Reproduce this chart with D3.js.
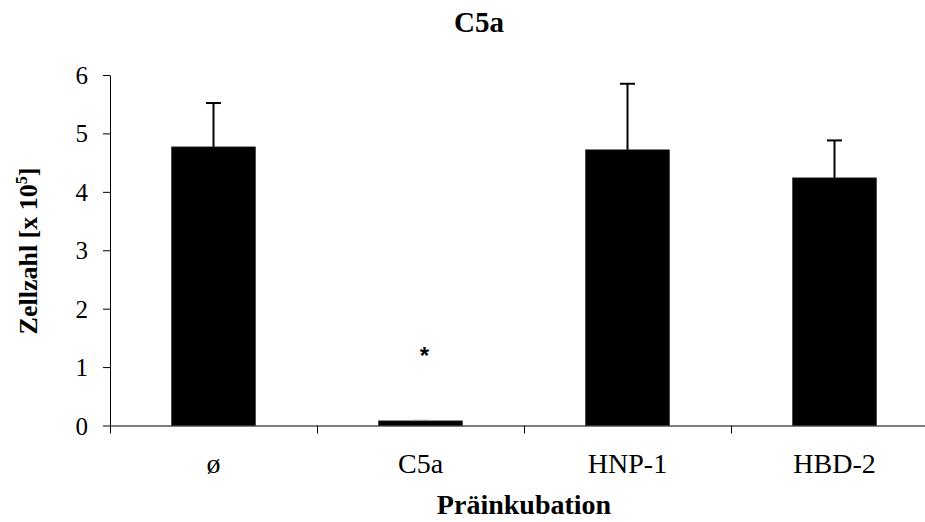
<!DOCTYPE html>
<html>
<head>
<meta charset="utf-8">
<script src="https://cdn.jsdelivr.net/npm/d3@7"></script>
<style>
    body { margin: 0; background: #fff; }
    svg { display: block; }
    text { font-family: "Liberation Serif", "Times New Roman", serif; fill: #000; }
</style>
</head>
<body>
<svg id="chart" width="925" height="522"></svg>
<script>
// Werte
var categories = ["ø", "C5a", "HNP-1", "HBD-2"];
var means = [4.77, 0.08, 4.72, 4.24];
var errors = [0.75, 0.01, 1.13, 0.64];
var marks = ["", "*", "", ""];
var yTicks = [0, 1, 2, 3, 4, 5, 6];

var data = categories.map(function (c, i) {
    return {cat: c, mean: means[i], err: errors[i], mark: marks[i]};
});

var svg = d3.select("#chart"),
    plotLeft = 110, plotRight = 938, plotTop = 75, plotBottom = 425.5;

var x = d3.scaleBand()
    .domain(categories)
    .range([plotLeft, plotRight])
    .paddingInner(0.593)
    .paddingOuter(0.2965);

// boundaries between categories for the x ticks
var xb = d3.scaleLinear()
    .domain([0, categories.length])
    .range([plotLeft, plotRight]);

var y = d3.scaleLinear()
    .domain([0, 6])
    .range([plotBottom, plotTop]);

// bars
svg.append("g")
    .selectAll("rect")
    .data(data)
    .enter()
    .append("rect")
    .attr("x", function (d) { return x(d.cat); })
    .attr("y", function (d) { return y(d.mean); })
    .attr("width", x.bandwidth())
    .attr("height", function (d) { return y(0) - y(d.mean); })
    .attr("fill", "#000")
    .attr("stroke", "#444")
    .attr("stroke-width", 0.6);

// error bars (upper only)
var eb = svg.append("g")
    .selectAll("g")
    .data(data)
    .enter()
    .append("g")
    .attr("stroke", function (d) { return d.err < 0.05 ? "#999" : "#000"; })
    .attr("stroke-width", function (d) { return d.err < 0.05 ? 1 : 2; });

eb.append("line")
    .attr("x1", function (d) { return x(d.cat) + x.bandwidth() / 2; })
    .attr("x2", function (d) { return x(d.cat) + x.bandwidth() / 2; })
    .attr("y1", function (d) { return y(d.mean); })
    .attr("y2", function (d) { return y(d.mean + d.err); });

eb.append("line")
    .attr("x1", function (d) { return x(d.cat) + x.bandwidth() / 2 - 7.5; })
    .attr("x2", function (d) { return x(d.cat) + x.bandwidth() / 2 + 7.5; })
    .attr("y1", function (d) { return y(d.mean + d.err); })
    .attr("y2", function (d) { return y(d.mean + d.err); });

// significance marks
svg.append("g")
    .selectAll("text")
    .data(data)
    .enter()
    .append("text")
    .attr("x", function (d) { return x(d.cat) + x.bandwidth() / 2 + 4; })
    .attr("y", 364)
    .attr("text-anchor", "middle")
    .style("font-family", "'Liberation Sans', Arial, sans-serif")
    .style("font-weight", "bold")
    .style("font-size", "24px")
    .text(function (d) { return d.mark; });

// y axis
var yAxis = svg.append("g")
    .attr("transform", "translate(" + plotLeft + ",0)")
    .call(d3.axisLeft(y)
        .tickValues(yTicks)
        .tickSize(7)
        .tickPadding(15)
        .tickSizeOuter(0)
        .tickFormat(d3.format("d")));
yAxis.selectAll("text").style("font-size", "25px").attr("dy", "0.34em");
yAxis.selectAll("line, path").attr("stroke", "#000");

// x axis: boundary ticks
var xAxis = svg.append("g")
    .attr("transform", "translate(0," + plotBottom + ")")
    .call(d3.axisBottom(xb)
        .tickValues(d3.range(categories.length + 1))
        .tickSize(8)
        .tickSizeOuter(0)
        .tickFormat(""));
xAxis.selectAll("line, path").attr("stroke", "#000");

// x category labels
var xLab = svg.append("g")
    .attr("transform", "translate(0," + plotBottom + ")")
    .call(d3.axisBottom(x).tickSize(0).tickPadding(28));
xLab.select(".domain").remove();
xLab.selectAll("text").style("font-size", "28px");

// title
svg.append("text")
    .attr("x", 479)
    .attr("y", 32)
    .attr("text-anchor", "middle")
    .style("font-weight", "bold")
    .style("font-size", "29px")
    .text("C5a");

// axis titles
svg.append("text")
    .attr("x", (plotLeft + plotRight) / 2)
    .attr("y", 514)
    .attr("text-anchor", "middle")
    .style("font-weight", "bold")
    .style("font-size", "28px")
    .text("Präinkubation");

var yl = svg.append("text")
    .attr("transform", "translate(37,251) rotate(-90)")
    .attr("text-anchor", "middle")
    .style("font-weight", "bold")
    .style("font-size", "26px");
yl.append("tspan").text("Zellzahl [x 10");
yl.append("tspan").attr("dy", -10).style("font-size", "16px").text("5");
yl.append("tspan").attr("dy", 10).text("]");
</script>
</body>
</html>
